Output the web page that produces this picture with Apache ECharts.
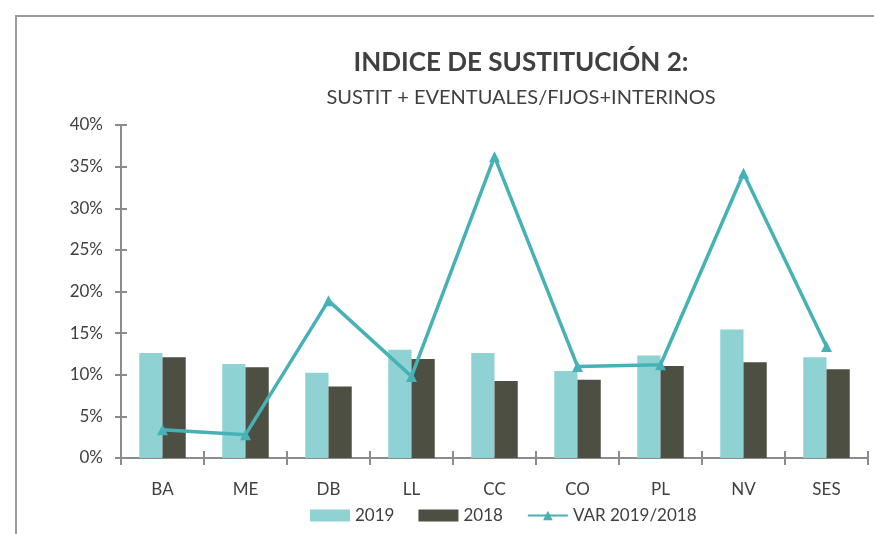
<!DOCTYPE html>
<html>
<head>
<meta charset="utf-8">
<script src="https://cdn.jsdelivr.net/npm/echarts@6/dist/echarts.min.js"></script>
<style>
  html, body { margin: 0; padding: 0; background: #fff; }
  #chart { width: 874px; height: 534px; }
</style>
</head>
<body>
<div id="chart"></div>
<script>
// datos
var categories = ['BA', 'ME', 'DB', 'LL', 'CC', 'CO', 'PL', 'NV', 'SES'];
var values2019 = [12.6, 11.3, 10.25, 13.0, 12.6, 10.45, 12.3, 15.45, 12.1];
var values2018 = [12.1, 10.9, 8.6, 11.9, 9.25, 9.4, 11.05, 11.5, 10.65];
var varLine = [3.4, 2.8, 18.9, 9.8, 36.2, 11.0, 11.2, 34.2, 13.4];
var yTicks = [0, 5, 10, 15, 20, 25, 30, 35, 40];

var font = 'Lato, "Open Sans", sans-serif';
var axisGray = '#8c8c8c';

var myChart = echarts.init(document.getElementById('chart'));
var option = {
  animation: false,
  textStyle: { fontFamily: font },
  title: {
    text: 'INDICE DE SUSTITUCIÓN 2:',
    subtext: 'SUSTIT + EVENTUALES/FIJOS+INTERINOS',
    left: 516,
    textAlign: 'center',
    top: 45,
    itemGap: 12,
    textStyle: { fontSize: 26, fontWeight: 'bold', color: '#404040', fontFamily: font },
    subtextStyle: { fontSize: 20, color: '#404040', fontFamily: font }
  },
  // marco del gráfico
  graphic: [
    {
      type: 'polyline',
      shape: { points: [[16, 540], [16, 16], [880, 16]] },
      style: { stroke: '#9a9a9a', lineWidth: 2, fill: null }
    }
  ],
  legend: {
    bottom: 5,
    left: 305,
    itemGap: 24,
    itemWidth: 40,
    itemHeight: 12,
    textStyle: { fontSize: 17, color: '#404040', fontFamily: font },
    data: [
      { name: '2019', icon: 'rect' },
      { name: '2018', icon: 'rect' },
      { name: 'VAR 2019/2018' }
    ]
  },
  grid: { left: 121, right: 6, top: 125, bottom: 76 },
  xAxis: [
    {
      type: 'category',
      data: categories,
      axisLine: { lineStyle: { color: axisGray, width: 2 } },
      axisTick: { show: true, length: 7, lineStyle: { color: axisGray, width: 2 } },
      axisLabel: { fontSize: 17, color: '#404040', margin: 23 }
    },
    {
      // marcas hacia dentro (ticks que cruzan el eje)
      type: 'category',
      data: categories,
      position: 'bottom',
      axisLine: { show: false },
      axisTick: { show: true, inside: true, length: 7, lineStyle: { color: axisGray, width: 2 } },
      axisLabel: { show: false }
    }
  ],
  yAxis: [
    {
      type: 'value',
      min: 0,
      max: 40,
      interval: 5,
      axisLine: { show: true, lineStyle: { color: axisGray, width: 2 } },
      axisTick: { show: true, length: 6, lineStyle: { color: axisGray, width: 2 } },
      axisLabel: { fontSize: 17, color: '#404040', margin: 18, formatter: '{value}%' },
      splitLine: { show: false }
    },
    {
      type: 'value',
      min: 0,
      max: 40,
      interval: 5,
      position: 'left',
      axisLine: { show: false },
      axisTick: { show: true, inside: true, length: 6, lineStyle: { color: axisGray, width: 2 } },
      axisLabel: { show: false },
      splitLine: { show: false }
    }
  ],
  series: [
    {
      name: '2019',
      type: 'bar',
      data: values2019,
      barGap: '0%',
      barCategoryGap: '44%',
      itemStyle: { color: '#8ed2d3' }
    },
    {
      name: '2018',
      type: 'bar',
      data: values2018,
      itemStyle: { color: '#4d4f42' }
    },
    {
      name: 'VAR 2019/2018',
      type: 'line',
      data: varLine,
      symbol: 'triangle',
      symbolSize: 11,
      lineStyle: { color: '#46b2b6', width: 3.5 },
      itemStyle: { color: '#46b2b6' }
    }
  ]
};
option && myChart.setOption(option);
</script>
</body>
</html>
